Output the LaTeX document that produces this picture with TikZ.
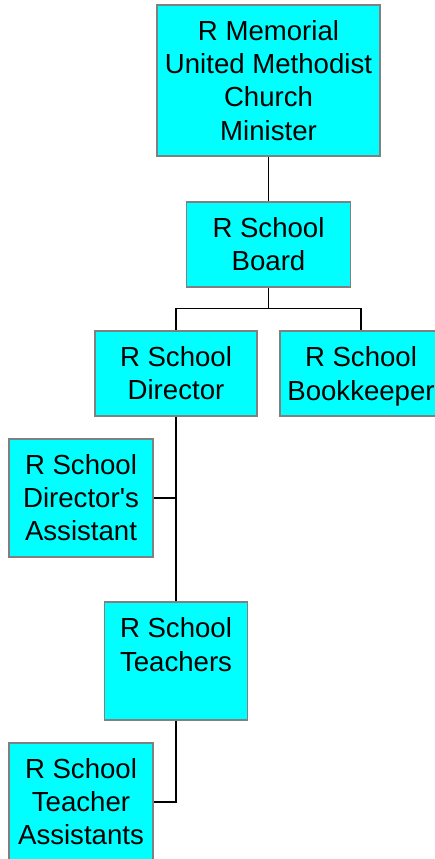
\documentclass[tikz,border=0pt]{standalone}
\usepackage{fontspec}
\setmainfont{Liberation Sans}[Ligatures=TeXOff]
\definecolor{boxfill}{RGB}{0,255,255}
\definecolor{boxline}{RGB}{128,128,128}
\begin{document}
\begin{tikzpicture}[x=1pt,y=-1pt,
  orgbox/.style={draw=boxline, line width=1.8pt, fill=boxfill, align=center, inner sep=0pt,
    font=\fontsize{27.6}{33.1}\selectfont},
  link/.style={draw=black, line width=1.6pt}]
\useasboundingbox (0,0) rectangle (435,859);
\clip (0,0) rectangle (435,859);
\node[orgbox, minimum width=223pt, minimum height=151pt] (minister) at (268.5,80.5)
  {R Memorial\\United Methodist\\Church\\Minister};
\node[orgbox, minimum width=164pt, minimum height=85pt] (board) at (268.5,244.5)
  {R School\\Board};
\node[orgbox, minimum width=162pt, minimum height=85pt] (director) at (176,373.5)
  {R School\\Director};
\node[orgbox, minimum width=162pt, minimum height=85pt, text depth=0pt] (bookkeeper) at (361,373.5)
  {R School\\Bookkeeper};
\node[orgbox, minimum width=144pt, minimum height=118pt] (dassist) at (81,498)
  {R School\\Director's\\Assistant};
\node[orgbox, minimum width=143pt, minimum height=118pt] (teachers) at (176,661)
  {R School\\Teachers\\\phantom{R}};
\node[orgbox, minimum width=144pt, minimum height=118pt] (tassist) at (81,802)
  {R School\\Teacher\\Assistants};
\coordinate (bus) at (268.5,308.5);
\draw[link] (minister.south) -- (board.north);
\draw[link] (board.south) -- (bus);
\draw[link] (bus) -| (director.north);
\draw[link] (bus) -| (bookkeeper.north);
\draw[link] (director.south) -- (teachers.north);
\draw[link] (dassist.east) -- (dassist.east -| director.south);
\draw[link] (teachers.south) |- (tassist.east);
\end{tikzpicture}
\end{document}
